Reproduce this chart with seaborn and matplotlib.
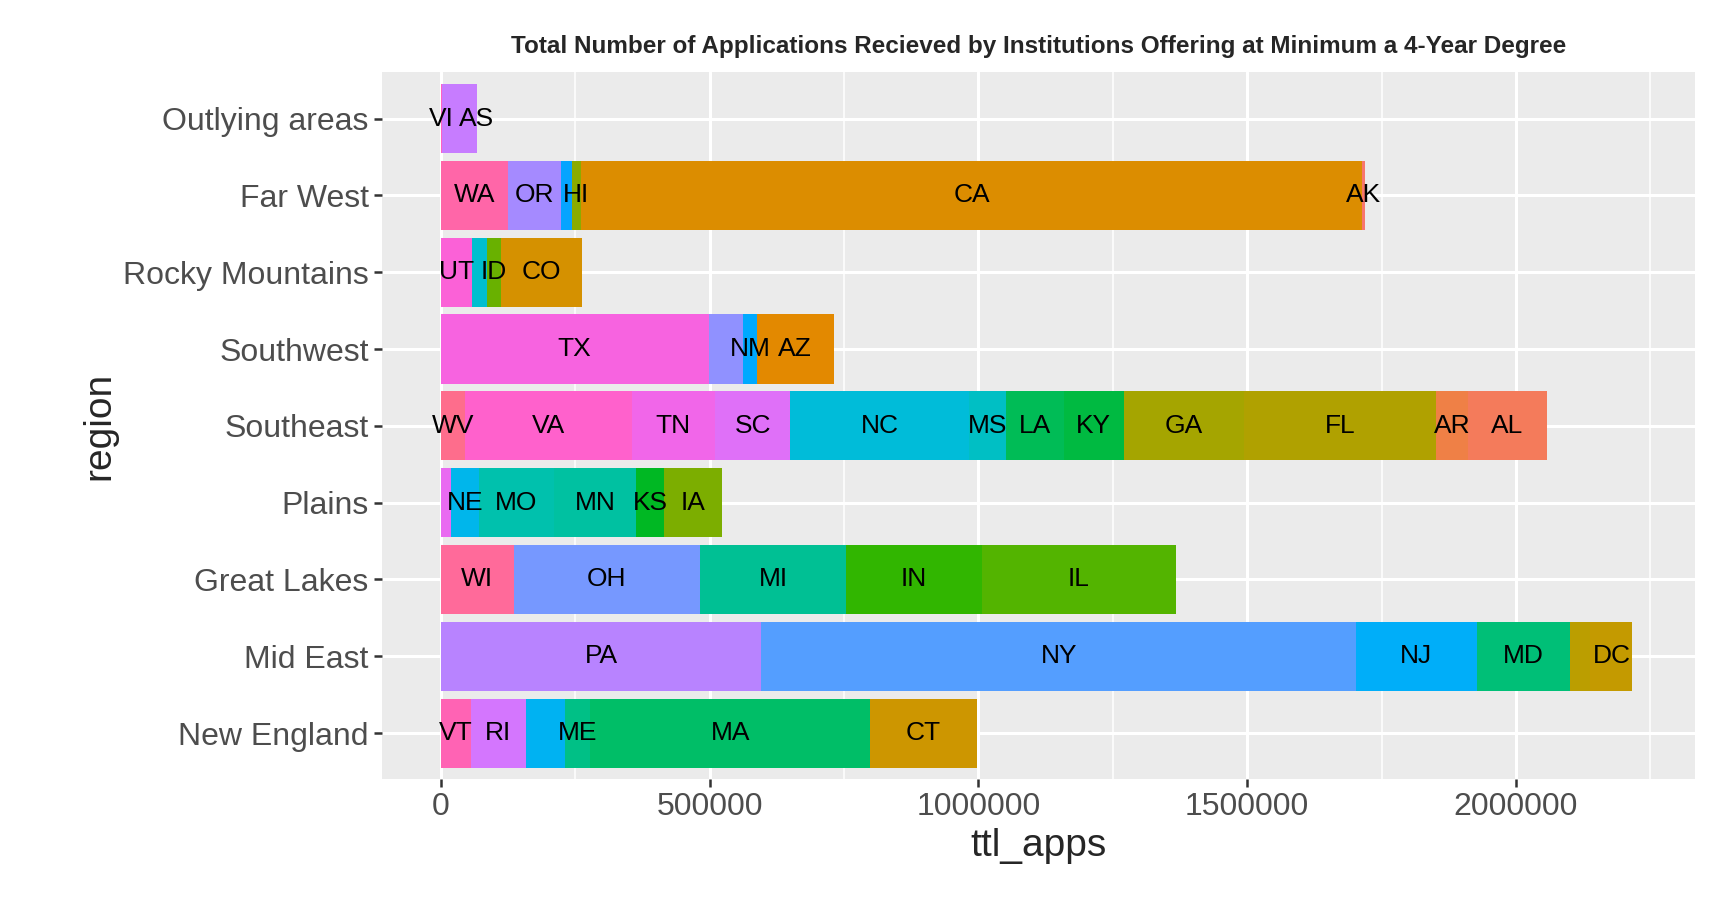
import numpy as np
import pandas as pd
import matplotlib
matplotlib.use("Agg")
import matplotlib.pyplot as plt
import seaborn as sns

# regions bottom -> top
regions = ["New England", "Mid East", "Great Lakes", "Plains", "Southeast",
           "Southwest", "Rocky Mountains", "Far West", "Outlying areas"]

# segments left -> right within each region (state, applications, show label)
segs = {
    "New England": [("VT", 56700, 1), ("RI", 100800, 1), ("NH", 72500, 0), ("ME", 48300, 1),
                    ("MA", 520800, 1), ("CT", 198000, 1)],
    "Mid East": [("PA", 595800, 1), ("NY", 1107000, 1), ("NJ", 224000, 1), ("MD", 174000, 1),
                 ("DE", 38000, 0), ("DC", 78000, 1)],
    "Great Lakes": [("WI", 135800, 1), ("OH", 345800, 1), ("MI", 272500, 1), ("IN", 251700, 1),
                    ("IL", 362000, 1)],
    "Plains": [("SD", 19000, 0), ("NE", 52500, 1), ("MO", 138000, 1), ("MN", 154000, 1),
               ("KS", 50800, 1), ("IA", 108000, 1)],
    "Southeast": [("WV", 45000, 1), ("VA", 310000, 1), ("TN", 155000, 1), ("SC", 140000, 1),
                  ("NC", 332500, 1), ("MS", 69000, 1), ("LA", 107000, 1), ("KY", 112000, 1),
                  ("GA", 224000, 1), ("FL", 356000, 1), ("AR", 61000, 1), ("AL", 146000, 1)],
    "Southwest": [("TX", 498000, 1), ("OK", 64000, 0), ("NM", 26000, 1), ("AZ", 143000, 1)],
    "Rocky Mountains": [("UT", 58000, 1), ("MT", 28000, 0), ("ID", 25000, 1), ("CO", 151700, 1)],
    "Far West": [("WA", 124000, 1), ("OR", 100000, 1), ("NV", 19000, 0), ("HI", 18000, 1),
                 ("CA", 1453000, 1), ("AK", 5000, 1)],
    "Outlying areas": [("VI", 1500, 1), ("PR", 65500, 0), ("AS", 300, 1)],
}

all_levels = sorted(["AK", "AL", "AR", "AS", "AZ", "CA", "CO", "CT", "DC", "DE", "FL", "GA", "GU",
                     "HI", "IA", "ID", "IL", "IN", "KS", "KY", "LA", "MA", "MD", "ME", "MI", "MN",
                     "MO", "MP", "MS", "MT", "NC", "ND", "NE", "NH", "NJ", "NM", "NV", "NY", "OH",
                     "OK", "OR", "PA", "PR", "RI", "SC", "SD", "TN", "TX", "UT", "VA", "VI", "VT",
                     "WA", "WI", "WV", "WY"])


def hcl_to_hex(h, c=100, l=65):
    # ggplot2 hue_pal: polar Luv -> sRGB
    hr = np.deg2rad(h)
    u, v = c * np.cos(hr), c * np.sin(hr)
    xn, yn, zn = 0.95047, 1.0, 1.08883
    un = 4 * xn / (xn + 15 * yn + 3 * zn)
    vn = 9 * yn / (xn + 15 * yn + 3 * zn)
    Y = yn * (((l + 16) / 116) ** 3 if l > 8 else l / 903.3)
    up, vp = u / (13 * l) + un, v / (13 * l) + vn
    X = Y * 9 * up / (4 * vp)
    Z = Y * (12 - 3 * up - 20 * vp) / (4 * vp)
    M = np.array([[3.2406, -1.5372, -0.4986], [-0.9689, 1.8758, 0.0415], [0.0557, -0.2040, 1.0570]])
    rgb = M @ np.array([X, Y, Z])
    rgb = np.where(rgb <= 0.0031308, 12.92 * rgb, 1.055 * np.clip(rgb, 0, None) ** (1 / 2.4) - 0.055)
    return tuple(np.clip(rgb, 0, 1))


n = len(all_levels)
hues = np.linspace(15, 375, n + 1)[:n]
palette = {s: hcl_to_hex(h) for s, h in zip(all_levels, hues)}

rows = []
for r in regions:
    for st, val, lab in segs[r]:
        rows.append({"region": r, "state": st, "ttl_apps": val, "show": lab})
df = pd.DataFrame(rows)

sns.set_theme(style="darkgrid", rc={"axes.facecolor": "#EBEBEB", "grid.color": "white"})
plt.rcParams["font.family"] = ["Liberation Sans", "DejaVu Sans"]

fig, ax = plt.subplots(figsize=(17.12, 9.06), dpi=100)
for i, r in enumerate(regions):
    sub = df[df.region == r]
    left = 0
    for _, row in sub.iterrows():
        ax.barh(i, row.ttl_apps, left=left, height=0.9, color=palette[row.state], linewidth=0)
        if row.show:
            ax.text(left + row.ttl_apps / 2, i, row.state, ha="center", va="center",
                    fontsize=19, color="black")
        left += row.ttl_apps

ax.set_yticks(range(len(regions)))
ax.set_yticklabels(regions, fontsize=23, color="#4D4D4D")
ax.set_xlim(-110000, 2333000)
ax.set_ylim(-0.6, len(regions) - 0.4)
ax.set_xticks([0, 500000, 1000000, 1500000, 2000000])
ax.set_xticklabels(["0", "500000", "1000000", "1500000", "2000000"], fontsize=23, color="#4D4D4D")
ax.set_xticks([250000, 750000, 1250000, 1750000, 2250000], minor=True)
ax.grid(which="major", color="white", linewidth=2.2)
ax.grid(which="minor", axis="x", color="white", linewidth=1.1)
ax.tick_params(axis="both", which="major", length=6, color="#333333", width=1.8, bottom=True, left=True)
ax.tick_params(axis="x", which="minor", length=0)
ax.set_xlabel("ttl_apps", fontsize=28)
ax.set_ylabel("region", fontsize=28)
for s in ax.spines.values():
    s.set_visible(False)
ax.set_title("Total Number of Applications Recieved by Institutions Offering at Minimum a 4-Year Degree",
             fontsize=17.5, fontweight="bold", pad=14)

fig.subplots_adjust(left=0.223, right=0.99, top=0.92, bottom=0.14)
fig.savefig("out.png", dpi=100)
